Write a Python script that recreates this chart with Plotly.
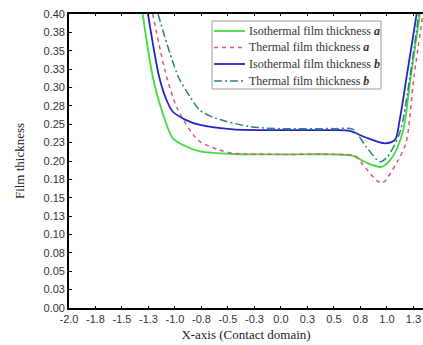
import plotly.graph_objects as go

# ---- data ----
iso_a_x = [-1.305, -1.21, -1.125, -1.02, -0.9, -0.765, -0.45, 0.0, 0.5, 0.68, 0.8, 0.95, 1.05, 1.15, 1.22, 1.31]
iso_a_y = [0.400, 0.315, 0.269, 0.231, 0.220, 0.213, 0.2095, 0.209, 0.209, 0.207, 0.198, 0.192, 0.205, 0.240, 0.310, 0.400]

th_a_x = [-1.21, -1.08, -0.97, -0.78, -0.6, -0.45, 0.0, 0.5, 0.7, 0.8, 0.95, 1.1, 1.18, 1.255, 1.34]
th_a_y = [0.400, 0.315, 0.269, 0.228, 0.216, 0.2104, 0.209, 0.209, 0.207, 0.190, 0.170, 0.200, 0.225, 0.315, 0.400]

iso_b_x = [-1.255, -1.15, -1.08, -1.02, -0.9, -0.765, -0.45, 0.0, 0.5, 0.65, 0.8, 0.98, 1.075, 1.12, 1.186, 1.28]
iso_b_y = [0.400, 0.315, 0.283, 0.267, 0.256, 0.249, 0.243, 0.242, 0.242, 0.241, 0.232, 0.224, 0.2286, 0.256, 0.315, 0.400]

th_b_x = [-1.16, -0.97, -0.86, -0.765, -0.61, -0.29, 0.0, 0.5, 0.68, 0.8, 0.934, 1.0, 1.12, 1.217, 1.30]
th_b_y = [0.400, 0.315, 0.288, 0.269, 0.258, 0.2467, 0.244, 0.244, 0.243, 0.220, 0.199, 0.205, 0.238, 0.315, 0.400]

series_names = [
    "Isothermal film thickness <b><i>a</i></b>",
    "Thermal film thickness <b><i>a</i></b>",
    "Isothermal film thickness <b><i>b</i></b>",
    "Thermal film thickness <b><i>b</i></b>",
]

x_tickvals = [-2.0, -1.75, -1.5, -1.25, -1.0, -0.75, -0.5, -0.25, 0.0, 0.25, 0.5, 0.75, 1.0, 1.25]
x_ticktext = ["-2.0", "-1.8", "-1.5", "-1.3", "-1.0", "-0.8", "-0.5", "-0.3", "0.0", "0.3", "0.5", "0.8", "1.0", "1.3"]
x_major = [-2.0, -1.5, -1.0, -0.5, 0.0, 0.5, 1.0]

y_tickvals = [0.0, 0.025, 0.05, 0.075, 0.1, 0.125, 0.15, 0.175, 0.2, 0.225, 0.25, 0.275, 0.3, 0.325, 0.35, 0.375, 0.4]
y_ticktext = ["0.00", "0.03", "0.05", "0.08", "0.10", "0.13", "0.15", "0.18", "0.20", "0.23", "0.25", "0.28",
              "0.30", "0.33", "0.35", "0.38", "0.40"]

W, H = 423, 345
ML, MR, MT, MB = 69, 0, 14, 37
PW, PH = W - ML - MR, H - MT - MB


def px_x(p):
    return (p - ML) / PW


def px_y(p):
    return (H - MB - p) / PH


fig = go.Figure()
styles = [
    dict(color="#40dc40", width=1.8, dash="solid"),
    dict(color="#e0527e", width=1.5, dash="4px,4px"),
    dict(color="#2424c8", width=1.8, dash="solid"),
    dict(color="#2a8080", width=1.5, dash="8px,3px,2px,3px"),
]
data = [(iso_a_x, iso_a_y), (th_a_x, th_a_y), (iso_b_x, iso_b_y), (th_b_x, th_b_y)]
for (xs, ys), name, st in zip(data, series_names, styles):
    fig.add_trace(go.Scatter(x=xs, y=ys, mode="lines", name=name, showlegend=False,
                             line=dict(shape="spline", smoothing=0.8, **st)))

# ---- custom legend (drawn to match the compact spacing of the reference) ----
shapes = [dict(type="rect", xref="paper", yref="paper",
               x0=px_x(212), x1=px_x(381), y0=px_y(89), y1=px_y(21),
               line=dict(color="#9a9a9a", width=1), fillcolor="white", layer="above")]
annotations = []
row_y = [31, 47.5, 64, 81]
for name, st, ry in zip(series_names, styles, row_y):
    shapes.append(dict(type="line", xref="paper", yref="paper",
                       x0=px_x(214), x1=px_x(245), y0=px_y(ry), y1=px_y(ry),
                       line=dict(color=st["color"], width=st["width"], dash=st["dash"]),
                       layer="above"))
    annotations.append(dict(xref="paper", yref="paper", x=px_x(247), y=px_y(ry),
                            xanchor="left", yanchor="middle", text=name, showarrow=False,
                            font=dict(family="Liberation Serif, Times New Roman", size=12, color="#333")))

tick_font = dict(family="Liberation Sans, Arial", size=11, color="#333333")
fig.update_layout(
    width=W, height=H,
    margin=dict(l=ML, r=MR, t=MT, b=MB),
    paper_bgcolor="white", plot_bgcolor="white",
    shapes=shapes, annotations=annotations,
    xaxis=dict(range=[-2.0, 1.34], tickvals=x_tickvals, ticktext=x_ticktext,
               ticks="inside", ticklen=2, tickwidth=1.2, tickcolor="black",
               showline=True, linecolor="black", linewidth=1.6, mirror="ticks",
               showgrid=False, zeroline=False, tickfont=tick_font,
               title=dict(text="X-axis (Contact domain)", standoff=6,
                          font=dict(family="Liberation Serif, Times New Roman", size=13, color="#222"))),
    xaxis2=dict(overlaying="x", matches="x", anchor="y", side="bottom",
                tickvals=x_major, ticks="inside", ticklen=4, tickwidth=1.2, tickcolor="black",
                showticklabels=False, showline=False, showgrid=False, zeroline=False, mirror="ticks"),
    yaxis=dict(range=[0, 0.40], tickvals=y_tickvals, ticktext=y_ticktext,
               ticks="inside", ticklen=3, tickwidth=1.2, tickcolor="black",
               showline=True, linecolor="black", linewidth=1.6,
               showgrid=False, zeroline=False, tickfont=tick_font,
               title=dict(text="Film thickness", standoff=16,
                          font=dict(family="Liberation Serif, Times New Roman", size=13, color="#222"))),
    showlegend=False,
)

fig.write_html("out.html")
